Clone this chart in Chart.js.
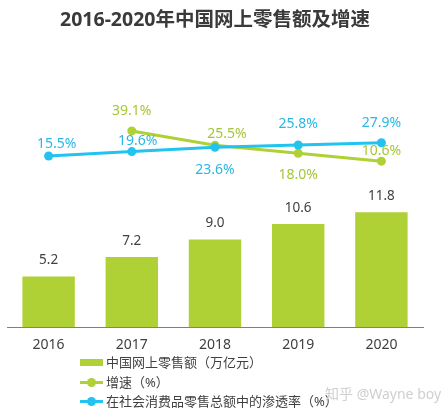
<!DOCTYPE html>
<html>
<head>
<meta charset="utf-8">
<script src="https://cdn.jsdelivr.net/npm/chart.js@4/dist/chart.umd.min.js"></script>
<style>
  html, body { margin: 0; padding: 0; background: #fff; }
  #wrap { position: relative; width: 446px; height: 414px; font-family: "Noto Sans", "Noto Sans CJK SC", sans-serif; }
  #chart { position: absolute; left: 0; top: 0; }
  #legend { position: absolute; left: 80px; top: 353px; font-size: 13px; color: #404040; line-height: 19.5px; }
  #legend .item { display: flex; align-items: center; height: 19.5px; }
  #legend .mark { position: relative; width: 23px; height: 19px; margin-right: 3px; }
  #legend .box { position: absolute; left: 0; top: 6px; width: 23px; height: 7px; }
  #legend .line { position: absolute; left: 0; top: 8px; width: 23px; height: 3px; }
  #legend .dot { position: absolute; left: 7px; top: 5px; width: 9px; height: 9px; border-radius: 50%; }
  #mark { position: absolute; left: 325px; top: 383px; font-size: 14px; color: #cfcfcf; }
</style>
</head>
<body>
<div id="wrap">
  <canvas id="chart" width="446" height="414"></canvas>
  <div id="legend"></div>
  <div id="mark">知乎 @Wayne boy</div>
</div>
<script>
// Data
const years = ['2016', '2017', '2018', '2019', '2020'];
const onlineSales = [5.2, 7.2, 9.0, 10.6, 11.8];          // 万亿元
const growthRate = [null, 39.1, 25.5, 18.0, 10.6];        // %
const penetration = [15.5, 19.6, 23.6, 25.8, 27.9];       // %

const GREEN = '#afd136';
const BLUE = '#22c3ee';
const TEXT = '#404040';

// where each percent label sits relative to its point (px)
const labelPlace = {
  growth: { dx: [0, 0, 12, 0, 0], dy: [0, -20, -11, 22, -10] },
  penetration: { dx: [8, 6, 0, 0, 0], dy: [-12, -11, 23, -21, -20] },
};

const valueLabels = {
  id: 'valueLabels',
  afterDatasetsDraw(chart) {
    const ctx = chart.ctx;
    ctx.save();
    ctx.textAlign = 'center';
    ctx.textBaseline = 'middle';
    chart.data.datasets.forEach((ds, i) => {
      const meta = chart.getDatasetMeta(i);
      meta.data.forEach((el, j) => {
        const v = ds.data[j];
        if (v === null || v === undefined) return;
        if (ds.type === 'bar') {
          ctx.font = '13.5px "Noto Sans", sans-serif';
          ctx.fillStyle = TEXT;
          ctx.fillText(v.toFixed(1), el.x, el.y - 16);
        } else {
          const place = labelPlace[ds.key];
          ctx.font = '14px "Noto Sans", sans-serif';
          ctx.fillStyle = ds.labelColor;
          ctx.fillText(v.toFixed(1) + '%', el.x + place.dx[j], el.y + place.dy[j]);
        }
      });
    });
    ctx.restore();
  }
};

const chart = new Chart(document.getElementById('chart'), {
  data: {
    labels: years,
    datasets: [
      {
        type: 'bar',
        label: '中国网上零售额（万亿元）',
        data: onlineSales,
        backgroundColor: GREEN,
        yAxisID: 'y',
        order: 2,
        barPercentage: 0.63,
        categoryPercentage: 1,
      },
      {
        type: 'line',
        key: 'growth',
        label: '增速（%）',
        data: growthRate,
        borderColor: GREEN,
        backgroundColor: GREEN,
        labelColor: '#a6c63a',
        borderWidth: 3,
        pointRadius: 4.5,
        pointBorderWidth: 0,
        tension: 0,
        yAxisID: 'y2',
        order: 1,
      },
      {
        type: 'line',
        key: 'penetration',
        label: '在社会消费品零售总额中的渗透率（%）',
        data: penetration,
        borderColor: BLUE,
        backgroundColor: BLUE,
        labelColor: '#2ab7e6',
        borderWidth: 3,
        pointRadius: 4.5,
        pointBorderWidth: 0,
        tension: 0,
        yAxisID: 'y2',
        order: 0,
      },
    ],
  },
  options: {
    responsive: false,
    animation: false,
    layout: { padding: { left: 7, right: 23, top: 0, bottom: 52 } },
    plugins: {
      legend: { display: false },
      tooltip: { enabled: false },
      title: {
        display: true,
        text: '2016-2020年中国网上零售额及增速',
        color: '#3a3a3a',
        font: { family: '"Noto Sans", "Noto Sans CJK SC", sans-serif', size: 19.5, weight: 'bold' },
        padding: { top: 9, bottom: 26 },
      },
    },
    scales: {
      x: {
        grid: { display: false, drawTicks: false },
        border: { display: true, color: '#7f7f7f', width: 1 },
        ticks: { color: TEXT, padding: 9, font: { family: '"Noto Sans", sans-serif', size: 14 } },
      },
      y: { display: false, min: 0, max: 27.6 },
      y2: { display: false, min: -146, max: 107.5 },
    },
  },
  plugins: [valueLabels],
});

// HTML legend built from the datasets
const legendEl = document.getElementById('legend');
chart.data.datasets.forEach(ds => {
  const item = document.createElement('div');
  item.className = 'item';
  const mark = document.createElement('span');
  mark.className = 'mark';
  if (ds.type === 'bar') {
    mark.innerHTML = `<span class="box" style="background:${ds.backgroundColor}"></span>`;
  } else {
    mark.innerHTML = `<span class="line" style="background:${ds.borderColor}"></span>` +
      `<span class="dot" style="background:${ds.borderColor}"></span>`;
  }
  const text = document.createElement('span');
  text.textContent = ds.label;
  item.appendChild(mark);
  item.appendChild(text);
  legendEl.appendChild(item);
});
</script>
</body>
</html>
